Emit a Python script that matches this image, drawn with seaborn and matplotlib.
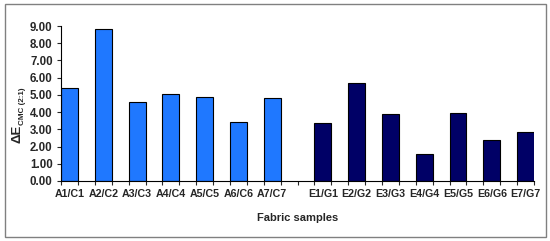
import pandas as pd
import matplotlib.pyplot as plt
import matplotlib.patches as mpatches
import seaborn as sns

# values
labels_a = ['A1/C1', 'A2/C2', 'A3/C3', 'A4/C4', 'A5/C5', 'A6/C6', 'A7/C7']
values_a = [5.38, 8.85, 4.59, 5.03, 4.86, 3.44, 4.80]
labels_e = ['E1/G1', 'E2/G2', 'E3/G3', 'E4/G4', 'E5/G5', 'E6/G6', 'E7/G7']
values_e = [3.35, 5.67, 3.87, 1.59, 3.97, 2.40, 2.86]
yticks = [0, 1, 2, 3, 4, 5, 6, 7, 8, 9]

df = pd.DataFrame({
    'sample': labels_a + labels_e,
    'de': values_a + values_e,
    'group': ['A'] * len(labels_a) + ['E'] * len(labels_e),
})

# excel layout: an empty category after every bar, two between the groups
order = []
for i, l in enumerate(labels_a):
    order.append(l)
    order.append('_a%d' % i)
order.append('_gap')
for i, l in enumerate(labels_e):
    if i > 0:
        order.append('_e%d' % i)
    order.append(l)

sns.set_style('white')
plt.rcParams['font.family'] = ['Liberation Sans', 'DejaVu Sans']
plt.rcParams['font.weight'] = 'bold'

fig = plt.figure(figsize=(5.5, 2.41), dpi=100)
ax = fig.add_axes([0.111, 0.249, 0.86, 0.643])

sns.barplot(data=df, x='sample', y='de', hue='group', order=order,
            palette={'A': '#1f78ff', 'E': '#000066'}, saturation=1, width=1.0,
            edgecolor='black', linewidth=0.8, legend=False, ax=ax)

ax.set_xlim(-0.5, len(order) - 0.5)
ax.set_ylim(0, 9)
ax.set_yticks(yticks)
ax.set_yticklabels(['%.2f' % v for v in yticks], fontsize=8.3, fontweight='bold')

pos = [order.index(l) for l in labels_a + labels_e]
ax.set_xticks(pos)
ax.set_xticklabels(labels_a + labels_e, fontsize=7.7, fontweight='bold')
ax.set_xticks([k - 0.5 for k in range(len(order) + 1)], minor=True)
ax.tick_params(axis='x', which='major', length=0, pad=5.5)
ax.tick_params(axis='x', which='minor', length=3, width=0.8, direction='out', bottom=True)
ax.tick_params(axis='y', length=3, width=0.8, direction='out', left=True, pad=3)

for s in ['top', 'right']:
    ax.spines[s].set_visible(False)
for s in ['left', 'bottom']:
    ax.spines[s].set_color('black')
    ax.spines[s].set_linewidth(0.8)

ax.set_xlabel('Fabric samples', fontsize=8, fontweight='bold', labelpad=10)
ax.set_ylabel('')
# y label: big "ΔE" with a small "CMC (2:1)" beside it, like the excel subscript
fig.text(0.031, 0.444, '\u0394E', rotation=90, ha='center', va='center',
         fontsize=9.5, fontweight='bold')
fig.text(0.0415, 0.558, 'CMC (2:1)', rotation=90, ha='center', va='center',
         fontsize=5.8, fontweight='bold')

fig.patches.append(mpatches.Rectangle((5 / 550, 4 / 241), 541 / 550, 233 / 241,
                                      transform=fig.transFigure, fill=False,
                                      edgecolor='#808080', linewidth=1))

plt.savefig('out.png', dpi=100)
plt.close()
